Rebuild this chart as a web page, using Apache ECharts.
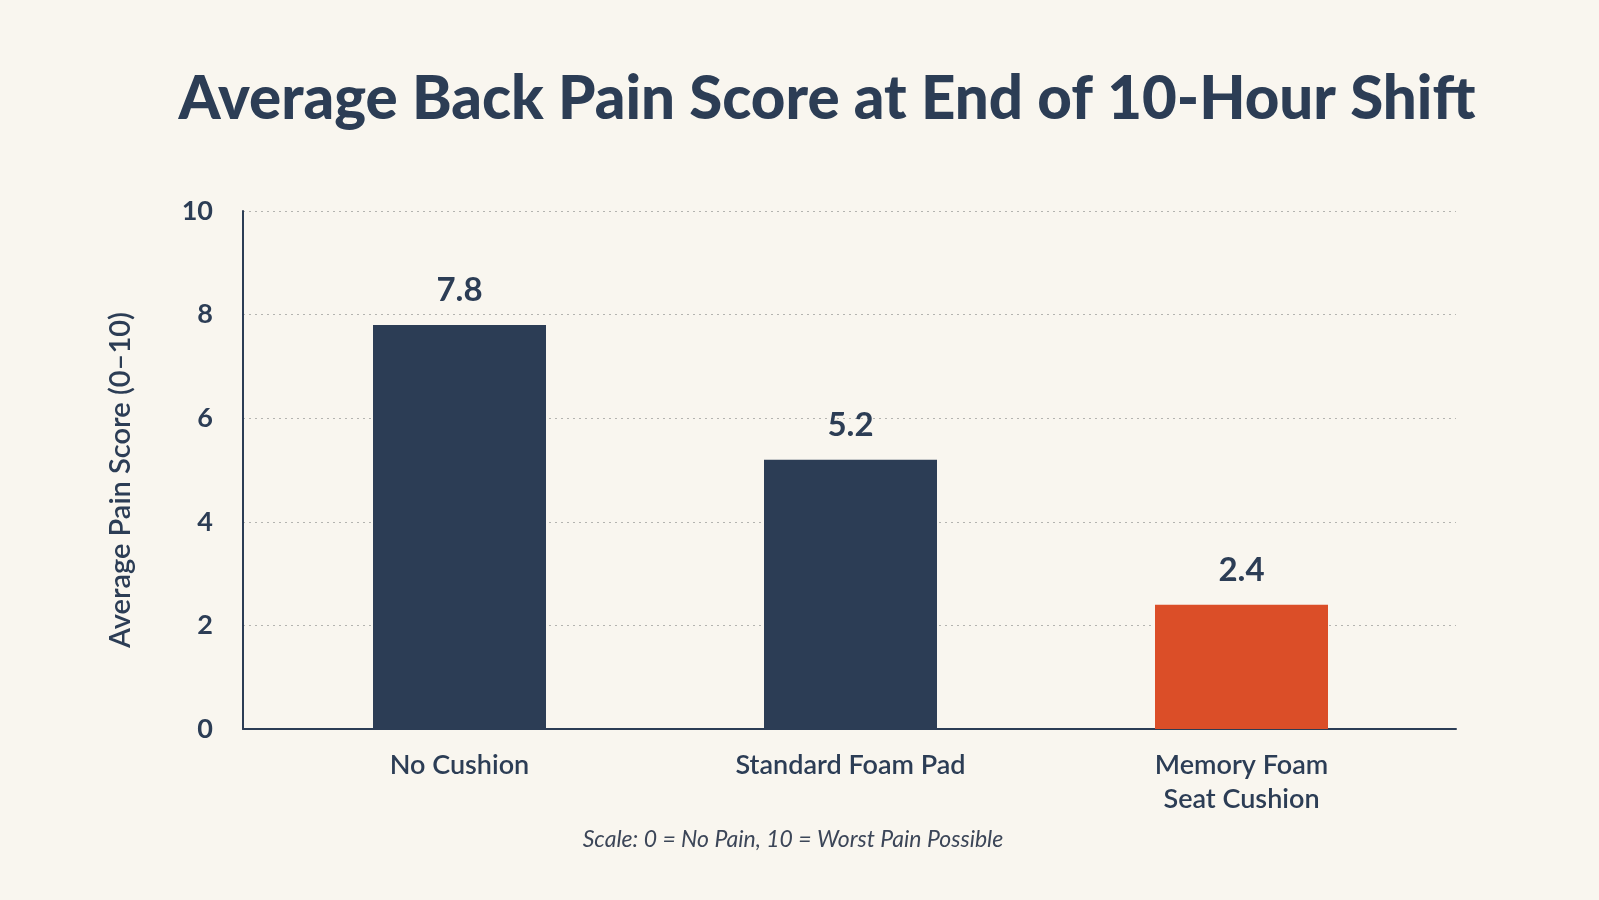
<!DOCTYPE html>
<html><head><meta charset="utf-8">
<script src="https://cdn.jsdelivr.net/npm/echarts@6/dist/echarts.min.js"></script>
<style>html,body{margin:0;padding:0;background:#f9f6ef;}#c{width:1599px;height:900px;}</style>
</head><body><div id="c"></div>
<script>
const categories = ['No Cushion', 'Standard Foam Pad', 'Memory Foam\nSeat Cushion'];
const painScores = [7.8, 5.2, 2.4];
const barColors = ['#2c3d55', '#2c3d55', '#db4e28'];
const yTicks = [0, 2, 4, 6, 8, 10];

const navy = '#2c3d55';
const chart = echarts.init(document.getElementById('c'));
chart.setOption({
  backgroundColor: '#f9f6ef',
  animation: false,
  title: [{
    text: 'Average Back Pain Score at End of 10-Hour Shift',
    left: 822, top: 65, textAlign: 'center',
    textStyle: {fontFamily: 'Lato', fontWeight: 900, fontSize: 60, color: navy}
  }, {
    text: 'Scale: 0 = No Pain, 10 = Worst Pain Possible',
    left: 788, top: 823, textAlign: 'center',
    textStyle: {fontFamily: 'Lato', fontStyle: 'italic', fontWeight: 'normal', fontSize: 23, color: '#3c4658'}
  }],
  grid: [
    {left: 243, right: 143, top: 211, bottom: 171},
    {left: 264, right: 162, top: 211, bottom: 171}
  ],
  xAxis: [
    {gridIndex: 0, type: 'value', min: 0, max: 1, axisLine: {show: true, onZero: false, lineStyle: {color: navy, width: 2}},
     axisTick: {show: false}, axisLabel: {show: false}, splitLine: {show: false}},
    {gridIndex: 1, type: 'category', data: categories, axisLine: {show: false}, axisTick: {show: false},
     axisLabel: {margin: 19, fontFamily: 'Lato', fontWeight: 600, fontSize: 27, color: navy, lineHeight: 34}}
  ],
  yAxis: [
    {gridIndex: 0, type: 'value', min: 0, max: 10, interval: 2,
     name: 'Average Pain Score (0–10)', nameLocation: 'middle', nameGap: 108, nameRotate: 90,
     nameTextStyle: {fontFamily: 'Lato', fontWeight: 600, fontSize: 29, color: navy, padding: [0, 20, 0, 0]},
     axisLine: {show: true, lineStyle: {color: navy, width: 2}}, axisTick: {show: false},
     axisLabel: {margin: 30, fontFamily: 'Lato', fontWeight: 'bold', fontSize: 27, color: navy},
     splitLine: {show: true, lineStyle: {color: '#b4b4b0', type: [2, 4], width: 1}}},
    {gridIndex: 1, type: 'value', min: 0, max: 10, interval: 2, show: false, splitLine: {show: false}}
  ],
  series: [{
    type: 'bar', xAxisIndex: 1, yAxisIndex: 1, barWidth: 173,
    data: painScores.map((v, i) => ({value: v, itemStyle: {color: barColors[i]}})),
    label: {show: true, position: 'top', distance: 18, fontFamily: 'Lato', fontWeight: 'bold', fontSize: 33, color: navy}
  }]
});
</script></body></html>
